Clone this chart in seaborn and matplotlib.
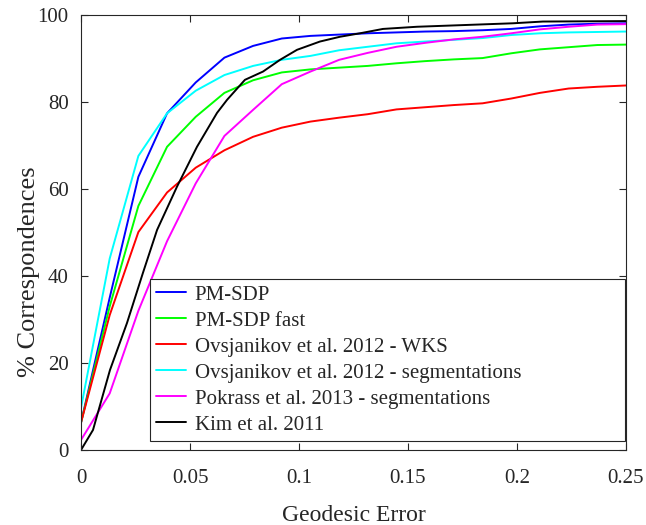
import numpy as np
import pandas as pd
import seaborn as sns
import matplotlib.pyplot as plt

# common sample grid for the piecewise curves
x_grid = np.linspace(0, 0.25, 20)

pm_sdp = [6.3, 35, 62.8, 77.4, 84.5, 90.2, 92.9, 94.6, 95.2, 95.5,
          95.8, 96.0, 96.2, 96.3, 96.5, 96.8, 97.4, 97.8, 98.0, 98.1]
pm_sdp_fast = [6.3, 33, 56.1, 69.7, 76.6, 82.1, 85.0, 86.8, 87.5, 87.9,
               88.3, 88.9, 89.4, 89.8, 90.1, 91.2, 92.1, 92.6, 93.1, 93.2]
ovs_wks = [6.3, 31, 50.1, 59.2, 64.9, 68.9, 72.0, 74.1, 75.5, 76.4,
           77.2, 78.3, 78.8, 79.3, 79.7, 80.8, 82.1, 83.1, 83.5, 83.8]
ovs_seg = [9.7, 44, 67.6, 77.4, 82.6, 86.2, 88.3, 89.7, 90.6, 91.9,
           92.7, 93.5, 93.9, 94.3, 94.7, 95.4, 95.8, 96.0, 96.1, 96.2]
pokrass_seg = [2.3, 13.0, 32, 48, 61.3, 72.2, 78.2, 84.1, 87.0, 89.7,
               91.3, 92.7, 93.6, 94.4, 95.0, 95.8, 96.7, 97.3, 97.8, 97.9]

# Kim et al. is sampled more densely
kim_x = [0, 0.0055, 0.0133, 0.0211, 0.0284, 0.0349, 0.044, 0.0532, 0.0624,
         0.067, 0.0752, 0.0835, 0.0913, 0.0991, 0.1096, 0.1188, 0.128,
         0.1385, 0.1541, 0.1982, 0.2119, 0.2486, 0.25]
kim = [0, 4.6, 18.4, 29.2, 40.7, 50.6, 60.5, 69.7, 77.5, 80.5, 85.1, 87.0,
       89.7, 92.0, 93.9, 95.0, 95.8, 96.8, 97.3, 98.1, 98.5, 98.6, 98.6]

labels = ["PM-SDP", "PM-SDP fast", "Ovsjanikov et al. 2012 - WKS",
          "Ovsjanikov et al. 2012 - segmentations",
          "Pokrass et al. 2013 - segmentations", "Kim et al. 2011"]
colors = ["#0000ff", "#00ff00", "#ff0000", "#00ffff", "#ff00ff", "#000000"]
xtick_labels = ["0", "0.05", "0.1", "0.15", "0.2", "0.25"]

frames = []
for lab, ys in zip(labels[:5], [pm_sdp, pm_sdp_fast, ovs_wks, ovs_seg, pokrass_seg]):
    frames.append(pd.DataFrame({"x": x_grid, "y": ys, "method": lab}))
frames.append(pd.DataFrame({"x": kim_x, "y": kim, "method": labels[5]}))
df = pd.concat(frames, ignore_index=True)

sns.set_style("ticks")
plt.rcParams['font.family'] = ['Liberation Serif', 'DejaVu Serif']

fig = plt.figure(figsize=(6.46, 5.25), dpi=100)
ax = fig.add_axes([0.1254, 0.1429, 0.969 - 0.1254, 0.9714 - 0.1429])

sns.lineplot(data=df, x="x", y="y", hue="method", hue_order=labels,
             palette=dict(zip(labels, colors)), linewidth=1.4, ax=ax,
             estimator=None, sort=True)

ax.set_xlim(0, 0.25)
ax.set_ylim(0, 100)
ax.set_xticks([0, 0.05, 0.1, 0.15, 0.2, 0.25])
ax.set_xticklabels(xtick_labels)
ax.set_yticks(np.arange(0, 101, 20))
ax.tick_params(direction="in", top=True, right=True, labelsize=15,
               length=5, width=0.8, colors="#262626")
ax.tick_params(axis="x", pad=14)
ax.tick_params(axis="y", pad=9)
for s in ax.spines.values():
    s.set_visible(True)
    s.set_linewidth(0.8)
    s.set_color("#262626")

ax.set_xlabel("Geodesic Error", fontsize=17, labelpad=12)
ax.set_ylabel("% Correspondences", fontsize=19)
ax.yaxis.set_label_coords(-0.075, 0.41)

leg = ax.legend(loc="lower left", fontsize=15, frameon=True, fancybox=False,
                edgecolor="#262626", handlelength=1.45, handletextpad=0.4,
                borderpad=0.3, labelspacing=0.31, borderaxespad=0,
                mode="expand", bbox_to_anchor=(0.1266, 0.0207, 0.8714, 0.3977))
leg.get_frame().set_linewidth(0.8)
leg.get_frame().set_alpha(1)

fig.savefig("out.png", dpi=100)
